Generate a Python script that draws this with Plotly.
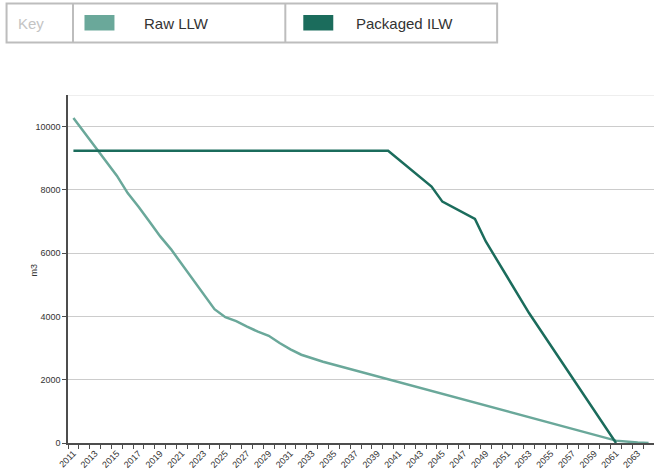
import plotly.graph_objects as go

# ---- data ----
raw_years = [2011, 2015, 2016, 2017, 2018, 2019, 2020, 2021, 2022, 2023, 2024, 2025,
             2026, 2027, 2028, 2029, 2030, 2031, 2032, 2033, 2034, 2061, 2062, 2063, 2064]
raw_llw = [10270, 8450, 7900, 7470, 7000, 6530, 6120, 5650, 5180, 4680, 4230, 3975,
           3850, 3680, 3520, 3390, 3160, 2960, 2790, 2680, 2570, 75, 40, 15, 0]

ilw_years = [2011, 2040, 2044, 2045, 2048, 2049, 2053, 2061]
packaged_ilw = [9240, 9240, 8105, 7630, 7080, 6370, 4100, 0]

tick_years = list(range(2011, 2064, 2))
tick_labels = [str(y) for y in tick_years]
y_ticks = [0, 2000, 4000, 6000, 8000, 10000]
y_labels = [str(v) for v in y_ticks]

series_names = ["Raw LLW", "Packaged ILW"]
colors = ["#6aa89a", "#1b6c5c"]

W, H = 654, 475
L, R, T, B = 67.5, 0, 95, 32
pw, ph = W - L - R, H - T - B


def px(x):
    return (x - L) / pw


def py(y):
    return (H - B - y) / ph


fig = go.Figure()
fig.add_trace(go.Scatter(x=raw_years, y=raw_llw, mode="lines", name=series_names[0],
                         line=dict(color=colors[0], width=2.5), showlegend=False))
fig.add_trace(go.Scatter(x=ilw_years, y=packaged_ilw, mode="lines", name=series_names[1],
                         line=dict(color=colors[1], width=2.5), showlegend=False))

font = "Liberation Sans, Arial, Helvetica, sans-serif"

fig.update_layout(
    width=W, height=H,
    margin=dict(l=L, r=R, t=T, b=B, pad=0, autoexpand=False),
    paper_bgcolor="white", plot_bgcolor="white",
    font=dict(family=font, color="#333333"),
    xaxis=dict(
        range=[2010.5, 2064.5], tickmode="array", tickvals=tick_years, ticktext=tick_labels,
        tickangle=-45, tickfont=dict(size=9, color="#333333"), ticks="", automargin=False,
        showgrid=False, zeroline=False, showline=True, linecolor="#4d4d4d", linewidth=1.5,
        minor=dict(tickmode="linear", tick0=2010.5, dtick=1, ticks="outside", ticklen=4,
                   tickcolor="#4d4d4d", tickwidth=1, showgrid=False),
    ),
    yaxis=dict(
        range=[0, 11000], tickmode="array", tickvals=y_ticks, ticktext=y_labels,
        tickfont=dict(size=9, color="#333333"), ticks="outside", ticklen=4, automargin=False,
        tickcolor="#4d4d4d", showgrid=True, gridcolor="#cccccc", gridwidth=1,
        zeroline=False, showline=True, linecolor="#4d4d4d", linewidth=1.5,
    ),
)

shapes = []
# top border line of plot area
shapes.append(dict(type="line", xref="paper", yref="y", x0=0, x1=1, y0=11000, y1=11000,
                   line=dict(color="#dddddd", width=1), layer="below"))
# legend table
bcol = "#bdbdbd"
shapes.append(dict(type="rect", xref="paper", yref="paper", x0=px(6), x1=px(497),
                   y0=py(42.5), y1=py(3.5), line=dict(color=bcol, width=2)))
for xd in [72.5, 285]:
    shapes.append(dict(type="line", xref="paper", yref="paper", x0=px(xd), x1=px(xd),
                       y0=py(42.5), y1=py(3.5), line=dict(color=bcol, width=2)))
for x0, c in [(84, colors[0]), (303, colors[1])]:
    shapes.append(dict(type="rect", xref="paper", yref="paper", x0=px(x0), x1=px(x0 + 30),
                       y0=py(30.5), y1=py(15), line=dict(width=0), fillcolor=c))
fig.update_layout(shapes=shapes)

ann = []
ann.append(dict(text="Key", x=px(15), y=py(23), xref="paper", yref="paper", xanchor="left",
                yanchor="middle", showarrow=False, font=dict(size=15, color="#c4c4c4", family=font)))
ann.append(dict(text=series_names[0], x=px(142), y=py(23), xref="paper", yref="paper", xanchor="left",
                yanchor="middle", showarrow=False, font=dict(size=15, color="#333333", family=font)))
ann.append(dict(text=series_names[1], x=px(354), y=py(23), xref="paper", yref="paper", xanchor="left",
                yanchor="middle", showarrow=False, font=dict(size=15, color="#333333", family=font)))
ann.append(dict(text="m3", x=px(33), y=py(270), xref="paper", yref="paper", xanchor="center",
                yanchor="middle", textangle=-90, showarrow=False,
                font=dict(size=9, color="#333333", family=font)))
fig.update_layout(annotations=ann)

fig.write_html("out.html", config={"displayModeBar": False},
               post_script="document.body.style.margin='0';document.body.style.overflow='hidden';")
